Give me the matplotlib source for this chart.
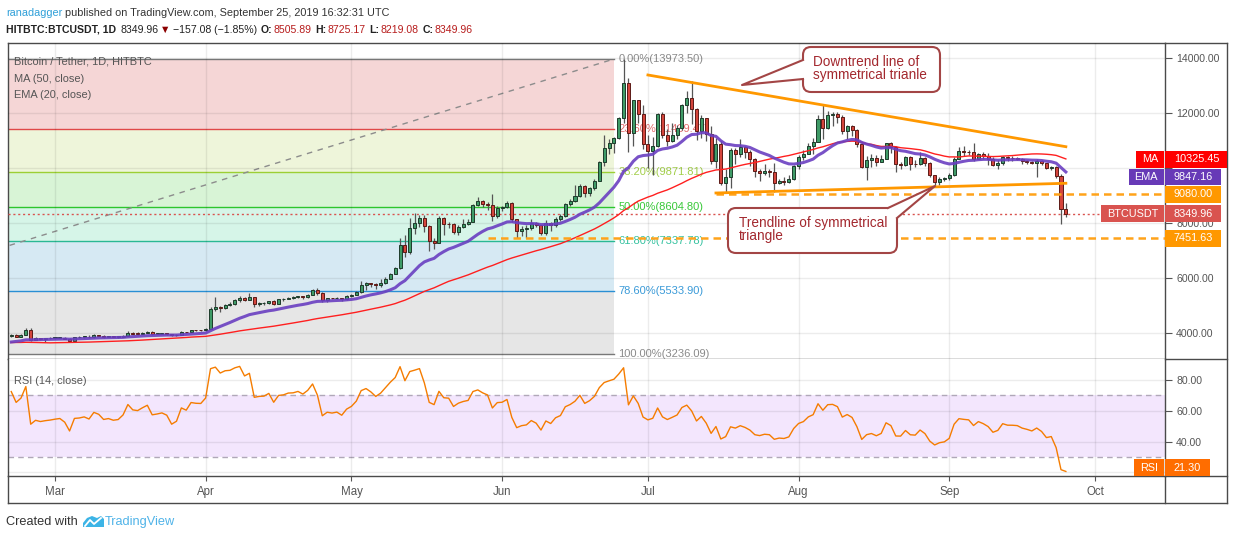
import numpy as np
import pandas as pd
import matplotlib
matplotlib.use("Agg")
import matplotlib.pyplot as plt
import matplotlib.dates as mdates
from matplotlib.patches import Rectangle, Polygon, FancyBboxPatch
from matplotlib.lines import Line2D
from matplotlib.transforms import Affine2D
from matplotlib.ticker import FuncFormatter

W, H = 1234, 540
plt.rcParams['font.family'] = ['Liberation Sans', 'DejaVu Sans']

# ---- data (HITBTC BTCUSDT daily) ----
# closes before the visible window, only used to warm up MA/EMA/RSI
history_closes = [3844, 3943, 3837, 3858, 3845, 4077, 4026, 4030, 4035, 3678, 3687, 3661, 3553, 3706, 3630, 3655,
                  3679, 3657, 3729, 3601, 3576, 3605, 3585, 3600, 3599, 3603, 3583, 3470, 3448, 3486, 3457,
                  3487, 3521, 3464, 3459, 3467, 3414, 3400, 3666, 3674, 3687, 3625, 3632, 3622, 3598, 3605, 3633,
                  3684, 3914, 3913]

close_feb = [3947, 3880, 3936, 4135, 3760, 3819, 3803, 3815, 3823]
high_feb = [3990, 3975, 3960, 4185, 4210, 3860, 3835, 3840, 3880]
low_feb = [3880, 3850, 3870, 3920, 3725, 3750, 3770, 3680, 3790]

close_mar = [3834, 3842, 3807, 3716, 3857, 3862, 3875, 3856, 3931, 3915, 3872, 3881, 3868, 3874, 3914, 4021,
             3985, 3980, 4008, 4033, 3974, 3981, 3990, 3977, 3923, 3943, 4050, 4037, 4110, 4106, 4105]
high_mar = [3875, 3865, 3850, 3825, 3880, 3905, 3915, 3945, 3960, 3945, 3920, 3905, 3895, 3905, 3935, 4080,
            4030, 4030, 4040, 4070, 4095, 4005, 4010, 4005, 3985, 3960, 4075, 4060, 4130, 4130, 4125]
low_mar = [3810, 3820, 3780, 3700, 3705, 3830, 3845, 3840, 3845, 3890, 3840, 3850, 3850, 3840, 3870, 3900,
           3975, 3955, 3965, 3995, 3950, 3960, 3960, 3950, 3900, 3915, 3935, 4020, 4030, 4080, 4080]

close_apr = [4158, 4880, 4973, 4922, 5036, 5059, 5198, 5289, 5205, 5325, 5064, 5089, 5096, 5167, 5067, 5236,
             5251, 5298, 5304, 5338, 5314, 5399, 5573, 5464, 5210, 5279, 5268, 5285, 5247, 5351]
high_apr = [4200, 4950, 5330, 4990, 5070, 5150, 5240, 5340, 5310, 5460, 5330, 5120, 5130, 5180, 5200, 5250,
            5290, 5330, 5350, 5370, 5350, 5430, 5620, 5630, 5510, 5300, 5300, 5320, 5300, 5380]
low_apr = [4100, 4150, 4800, 4780, 4900, 4980, 5040, 5150, 5170, 5200, 4950, 5010, 5040, 5060, 5030, 5050,
           5190, 5240, 5240, 5270, 5260, 5280, 5380, 5400, 5150, 5130, 5230, 5230, 5180, 5220]

close_may = [5402, 5505, 5768, 5831, 5795, 5747, 5829, 5982, 6174, 6378, 7204, 6972, 7815, 7994, 8205, 7884,
             7343, 7271, 8197, 7978, 7963, 7680, 7881, 7987, 8052, 8673, 8805, 8719, 8659, 8261, 8567]
high_may = [5440, 5540, 5900, 5880, 5840, 5830, 5960, 6030, 6190, 6420, 7450, 7580, 8180, 8380, 8300, 8310,
            7950, 7470, 8260, 8240, 8060, 8010, 7950, 8150, 8170, 8700, 8960, 8830, 8760, 9080, 8630]
low_may = [5320, 5390, 5480, 5560, 5680, 5600, 5700, 5790, 5960, 6150, 6340, 6790, 6880, 7620, 7880, 7700,
           6980, 7080, 7270, 7570, 7820, 7600, 7560, 7840, 7940, 8050, 8620, 8610, 8480, 8100, 8200]

close_jun = [8590, 8750, 8150, 7712, 7800, 7834, 8017, 7920, 7650, 8017, 7920, 8164, 8261, 8690, 8810, 8994,
             9360, 9116, 9275, 9543, 10215, 10728, 10923, 11106, 11827, 13110, 11300, 12470, 11960, 10890]
high_jun = [8640, 8810, 8780, 8160, 7900, 7930, 8160, 8060, 7950, 8120, 8050, 8230, 8330, 8720, 8900, 9380,
            9440, 9380, 9310, 9600, 10250, 11220, 11080, 11140, 11850, 13973.5, 13300, 12500, 12500, 12300]
low_jun = [8450, 8540, 8050, 7480, 7550, 7480, 7770, 7850, 7580, 7570, 7720, 7870, 8080, 8220, 8620, 8760,
           8970, 8950, 9000, 9220, 9520, 10100, 10520, 10570, 11050, 11650, 10600, 10800, 11650, 10700]

close_jul = [10640, 10801, 11961, 11215, 10978, 11208, 11450, 12285, 12573, 12156, 11358, 11815, 11250, 10256,
             10895, 9477, 9693, 10666, 10530, 10767, 10599, 10343, 9900, 9811, 9911, 9870, 9477, 9552, 9519,
             9607, 10085]
high_jul = [11200, 11150, 12000, 12050, 11420, 11650, 11560, 12340, 12820, 13183, 12180, 11930, 11840, 11540,
            11100, 11000, 9960, 10740, 10750, 11060, 10800, 10660, 10380, 9960, 10140, 9990, 10190, 9620, 9700,
            9740, 10130]
low_jul = [10000, 9750, 10780, 11100, 10800, 10950, 11080, 11400, 12020, 11600, 11020, 11100, 11000, 10160,
           10000, 9400, 9100, 9280, 10150, 10400, 10370, 10100, 9700, 9550, 9770, 9700, 9140, 9440, 9380,
           9450, 9580]

close_aug = [10399, 10518, 10821, 10970, 11805, 11478, 11941, 11966, 11862, 11354, 11523, 11382, 10895, 10051,
             10311, 10374, 10231, 10345, 10916, 10763, 10138, 10131, 10407, 10159, 10138, 10370, 10185, 9754,
             9510, 9598, 9630]
high_aug = [10470, 10650, 10920, 11090, 11930, 12330, 12080, 12030, 12050, 11940, 11580, 11570, 11440, 10920,
            10460, 10520, 10480, 10480, 10920, 10940, 10800, 10220, 10450, 10440, 10310, 10600, 10420, 10230,
            9760, 9700, 9670]
low_aug = [9980, 10300, 10510, 10530, 10950, 11080, 11420, 11550, 11650, 11250, 11060, 11190, 10770, 10000,
           9590, 10060, 10080, 10220, 10340, 10560, 9860, 9960, 10080, 9930, 10060, 10120, 10100, 9680,
           9380, 9400, 9520]

close_sep = [9757, 10346, 10623, 10594, 10575, 10353, 10517, 10441, 10334, 10115, 10178, 10410, 10360, 10358,
             10347, 10276, 10241, 10198, 10266, 10181, 10019, 10040, 9710, 8505.89, 8349.96]
high_sep = [9830, 10420, 10790, 10820, 10650, 10920, 10570, 10580, 10550, 10400, 10300, 10460, 10440, 10430,
            10400, 10370, 10300, 10260, 10330, 10290, 10210, 10100, 10080, 9800, 8725.17]
low_sep = [9580, 9720, 10320, 10450, 10480, 10250, 10340, 10320, 10120, 10080, 9970, 10120, 10250, 10280,
           10290, 10140, 10160, 10140, 9700, 10120, 9960, 9920, 9640, 7990, 8219.08]

fib_high, fib_low = 13973.50, 3236.09
fib_ratios = [0.0, 0.236, 0.382, 0.5, 0.618, 0.786, 1.0]
fib_start, fib_end = '2018-12-09', '2019-06-24'

downtrend_dates = ['2019-07-01', '2019-09-25']
downtrend_prices = [13393, 10785]
support_dates = ['2019-07-15', '2019-09-25']
support_prices = [9102, 9455]
level_prices = [9080.00, 7451.63]
level_starts = ['2019-07-15', '2019-05-29']

ma_last, ema_last, rsi_last = 10325.45, 9847.16, 21.30
last_open, last_high, last_low, last_close = 8505.89, 8725.17, 8219.08, 8349.96

# ---- series ----
closes = close_feb + close_mar + close_apr + close_may + close_jun + close_jul + close_aug + close_sep
highs = high_feb + high_mar + high_apr + high_may + high_jun + high_jul + high_aug + high_sep
lows = low_feb + low_mar + low_apr + low_may + low_jun + low_jul + low_aug + low_sep

all_closes = pd.Series(history_closes + closes, dtype=float,
                       index=pd.date_range('2019-01-01', periods=len(history_closes) + len(closes), freq='D'))
ma50 = all_closes.rolling(50).mean()
ema20 = all_closes.ewm(span=20, adjust=False).mean()
delta = all_closes.diff().fillna(0)
gain = delta.clip(lower=0).ewm(alpha=1 / 14, adjust=False).mean()
loss = (-delta.clip(upper=0)).ewm(alpha=1 / 14, adjust=False).mean()
rsi = 100 - 100 / (1 + gain / loss)

nh = len(history_closes)
x = mdates.date2num(all_closes.index[nh:])
c = np.array(closes, dtype=float)
o = np.array([history_closes[-1]] + closes[:-1], dtype=float)
hi = np.array(highs, dtype=float)
lo = np.array(lows, dtype=float)

# ---- figure ----
fig = plt.figure(figsize=(W / 100, H / 100), dpi=100)
T = Affine2D().scale(1.0 / W, -1.0 / H).translate(0, 1) + fig.transFigure


def axes_box(l, t, r, b):
    return [l / W, 1 - b / H, (r - l) / W, (b - t) / H]


ax = fig.add_axes(axes_box(8, 43, 1165, 359))
ax_rsi = fig.add_axes(axes_box(8, 359, 1165, 476), sharex=ax)

d0 = mdates.date2num(pd.Timestamp('2019-03-01'))
x_left, x_right = d0 - 9.67, d0 + 228.4
ax.set_xlim(x_left, x_right)
ax.set_ylim(3065, 14556)
ax_rsi.set_ylim(17.7, 93.4)

months = pd.date_range('2019-03-01', '2019-10-01', freq='MS')
ax.set_xticks(mdates.date2num(months))
ax.xaxis.set_major_formatter(mdates.DateFormatter('%b'))
ax.tick_params(axis='x', length=0, labelbottom=False)
ax_rsi.tick_params(axis='x', length=3.5, color='#555555', labelsize=8.3, labelcolor='#555555', pad=4)

# labels hidden behind the price tags are left blank, as on the chart
hidden_ticks = {10000, 20}
for a, ticks in ((ax, [4000, 6000, 8000, 10000, 12000, 14000]), (ax_rsi, [20, 40, 60, 80])):
    a.yaxis.tick_right()
    a.set_yticks(ticks)
    a.yaxis.set_major_formatter(FuncFormatter(lambda v, _: '' if round(v) in hidden_ticks else f'{v:.2f}'))
    a.tick_params(axis='y', length=5, color='#555555', labelsize=7.6, labelcolor='#555555', pad=3)
    a.grid(True, color='#000000', alpha=0.075, lw=1)
    a.set_axisbelow(False)
    for sp in a.spines.values():
        sp.set_color('#4a4a4a')
        sp.set_linewidth(1)
ax_rsi.spines['top'].set_visible(False)

# fibonacci retracement
fib_levels = [fib_high - r * (fib_high - fib_low) for r in fib_ratios]
fib_fill = ['#f5d6d6', '#eef5da', '#d8f4d6', '#d6f5e8', '#d6e9f3', '#e6e6e6']
fib_line = ['#787878', '#e04848', '#9ccf34', '#2ec52e', '#2ab894', '#2a8fd4', '#787878']
fib_text = ['#8a8a8a', '#e06a6a', '#a3cf4a', '#38c838', '#36c2a0', '#3a9ad8', '#8a8a8a']
fx0, fx1 = mdates.date2num(pd.Timestamp(fib_start)), mdates.date2num(pd.Timestamp(fib_end))
for i in range(len(fib_levels) - 1):
    ax.fill_between([fx0, fx1], fib_levels[i], fib_levels[i + 1], color=fib_fill[i], lw=0, zorder=1)
for lvl, r, lc, tc in zip(fib_levels, fib_ratios, fib_line, fib_text):
    ax.plot([fx0, fx1], [lvl, lvl], color=lc, lw=1, zorder=1.6)
    ax.text(fx1 + 0.9, lvl, f'{r * 100:.2f}%({lvl + 1e-6:.2f})', color=tc, fontsize=8,
            va='center', ha='left', zorder=1.4)
ax.plot([fx0, fx1], [fib_low, fib_high], color='#8c8c8c', lw=1, dashes=(4, 4), zorder=1.7)

# current price line
ax.axhline(last_close, color='#d9534f', lw=1, ls=(0, (1.5, 2)), zorder=2.8)

# candles
up = c >= o
ax.vlines(x, lo, hi, color='#555555', lw=0.9, zorder=3)
ax.bar(x, np.maximum(np.abs(c - o), 25), bottom=np.minimum(o, c), width=0.62,
       color=np.where(up, '#3f9b67', '#d4453c'), edgecolor=np.where(up, '#1e3b2b', '#5c1a16'),
       lw=0.7, zorder=4)

# moving averages
ax.plot(x, ma50.values[nh:], color='#ff1f1f', lw=1, zorder=5)
ax.plot(x, ema20.values[nh:], color='#6a3fc1', lw=2.2, alpha=0.9, zorder=5)

# drawings
for p, start in zip(level_prices, level_starts):
    ax.plot([mdates.date2num(pd.Timestamp(start)), x_right], [p, p], color='#ffa31a', lw=1.8,
            dashes=(3, 2), zorder=6)
ax.plot(mdates.date2num(pd.to_datetime(downtrend_dates)), downtrend_prices, color='#ff9800', lw=2, zorder=6)
ax.plot(mdates.date2num(pd.to_datetime(support_dates)), support_prices, color='#ff9800', lw=2, zorder=6)

# RSI panel
ax_rsi.axhspan(30, 70, color='#f3e6fd', lw=0, zorder=0.5)
for lv in (70, 30):
    ax_rsi.axhline(lv, color='#b0a8b8', lw=1, dashes=(4, 3), zorder=1)
ax_rsi.plot(x, rsi.values[nh:], color='#f57c00', lw=1, zorder=3)

# frame pieces outside the two axes
for (xa, ya), (xb, yb) in [((1165, 43), (1227, 43)), ((1227, 43), (1227, 503)), ((8, 503), (1227, 503)),
                           ((8, 476), (8, 503)), ((1165, 359), (1227, 359)), ((1165, 476), (1227, 476)),
                           ((1165, 476), (1165, 503))]:
    fig.add_artist(Line2D([xa, xb], [ya, yb], transform=T, color='#4a4a4a', lw=1, zorder=9))

renderer = fig.canvas.get_renderer()


def text_width(t):
    return t.get_window_extent(renderer=renderer).width


# price scale tags
def price_to_py(p):
    y0, y1 = ax.get_ylim()
    return 43 + (y1 - p) / (y1 - y0) * (359 - 43)


def tag(cy, name, value, color, right):
    fig.add_artist(Rectangle((1165, cy - 8.3), right - 1165, 16.6, transform=T, fc=color, ec='none', zorder=10))
    fig.text(1174, cy, value, transform=T, color='white', fontsize=7.8, va='center', ha='left', zorder=11)
    if name:
        t = fig.text(1158, cy, name, transform=T, color='white', fontsize=7.8, va='center', ha='right', zorder=11)
        w = text_width(t)
        fig.add_artist(Rectangle((1164 - w - 12, cy - 8.3), w + 12, 16.6, transform=T, fc=color, ec='none',
                                 zorder=10))


tags = [('MA', f'{ma_last:.2f}', '#ff0000', ma_last, 1227),
        ('EMA', f'{ema_last:.2f}', '#673ab7', ema_last, 1221),
        ('', f'{level_prices[0]:.2f}', '#ff9800', level_prices[0], 1221),
        ('BTCUSDT', f'{last_close:.2f}', '#d9534f', last_close, 1221),
        ('', f'{level_prices[1]:.2f}', '#ff9800', level_prices[1], 1221)]
prev = -100
for name, val, col, p, right in tags:
    cy = max(price_to_py(p), prev + 17.5)
    prev = cy
    tag(cy, name, val, col, right)

rsi_py = 359 + (93.4 - rsi_last) / (93.4 - 17.7) * (476 - 359)
tag(min(rsi_py, 476 - 8.3), 'RSI', f'{rsi_last:.2f}', '#ff6d00', 1210)

# legends inside panels
for ty, s in ((61, 'Bitcoin / Tether, 1D, HITBTC'), (78.5, 'MA (50, close)'), (95, 'EMA (20, close)')):
    fig.text(14, ty, s, transform=T, color='#555555', fontsize=7.9, va='center', zorder=3)
fig.text(14, 381, 'RSI (14, close)', transform=T, color='#555555', fontsize=7.9, va='center', zorder=3)


# callouts
def callout(box, wedge, cover, lines, tx, ty):
    l, t, r, b = box
    edge = '#a34545'
    fig.add_artist(FancyBboxPatch((l, t), r - l, b - t, boxstyle='round,pad=0,rounding_size=8', transform=T,
                                  fc='white', ec=edge, lw=1.5, zorder=12))
    fig.add_artist(Polygon(cover, closed=True, transform=T, fc='white', ec='none', zorder=13))
    fig.add_artist(Line2D([p[0] for p in wedge], [p[1] for p in wedge], transform=T, color=edge, lw=1.5,
                          zorder=14))
    for k, s in enumerate(lines):
        fig.text(tx, ty + k * 12.5, s, transform=T, color='#a3282e', fontsize=9.8, va='center', ha='left',
                 zorder=15)


callout((803, 47, 940, 92), [(803, 60), (742, 85), (803, 79)],
        [(806, 60), (803, 60), (742, 85), (803, 79), (806, 79)],
        ['Downtrend line of', 'symmetrical trianle'], 813, 62.5)
callout((728, 208, 897, 253), [(888, 208), (935, 186), (897, 218)],
        [(888, 208), (935, 186), (897, 218), (886, 220)],
        ['Trendline of symmetrical', 'triangle'], 739, 223.5)


# header
def pieces(x0, y, parts, size):
    xx = x0
    for s, color, weight, gap in parts:
        t = fig.text(xx, y, s, transform=T, color=color, fontweight=weight, fontsize=size,
                     va='center', ha='left')
        xx += text_width(t) + gap


pieces(6, 13, [('ranadagger', '#2e9fd8', 'normal', 3),
               ('published on TradingView.com, September 25, 2019 16:32:31 UTC', '#333333', 'normal', 0)], 7.8)
red = '#b71c1c'
pieces(6, 30, [('HITBTC:BTCUSDT, 1D', '#222222', 'bold', 4),
               (f'{last_close:.2f}', '#222222', 'normal', 2),
               ('\u25bc', '#8b0000', 'normal', 2),
               ('\u2212157.08 (\u22121.85%)', '#222222', 'normal', 4),
               ('O:', '#222222', 'bold', 1), (f'{last_open:.2f}', red, 'normal', 4),
               ('H:', '#222222', 'bold', 1), (f'{last_high:.2f}', red, 'normal', 4),
               ('L:', '#222222', 'bold', 1), (f'{last_low:.2f}', red, 'normal', 4),
               ('C:', '#222222', 'bold', 1), (f'{last_close:.2f}', red, 'normal', 0)], 7.6)

# footer
fig.text(6, 522, 'Created with', transform=T, color='#333333', fontsize=9.2, va='center')
fig.add_artist(Polygon([(83, 527), (83, 523), (87, 518), (92, 516), (97, 518), (101, 516), (104, 519),
                        (104, 527)], closed=True, transform=T, fc='#3cb4e6', ec='none'))
fig.add_artist(Line2D([85, 90, 94, 101], [526, 520, 524, 518], transform=T, color='white', lw=1.3))
fig.text(105, 522, 'TradingView', transform=T, color='#4fb3e8', fontsize=9.2, va='center')

fig.savefig('out.png', dpi=100, facecolor='white')
